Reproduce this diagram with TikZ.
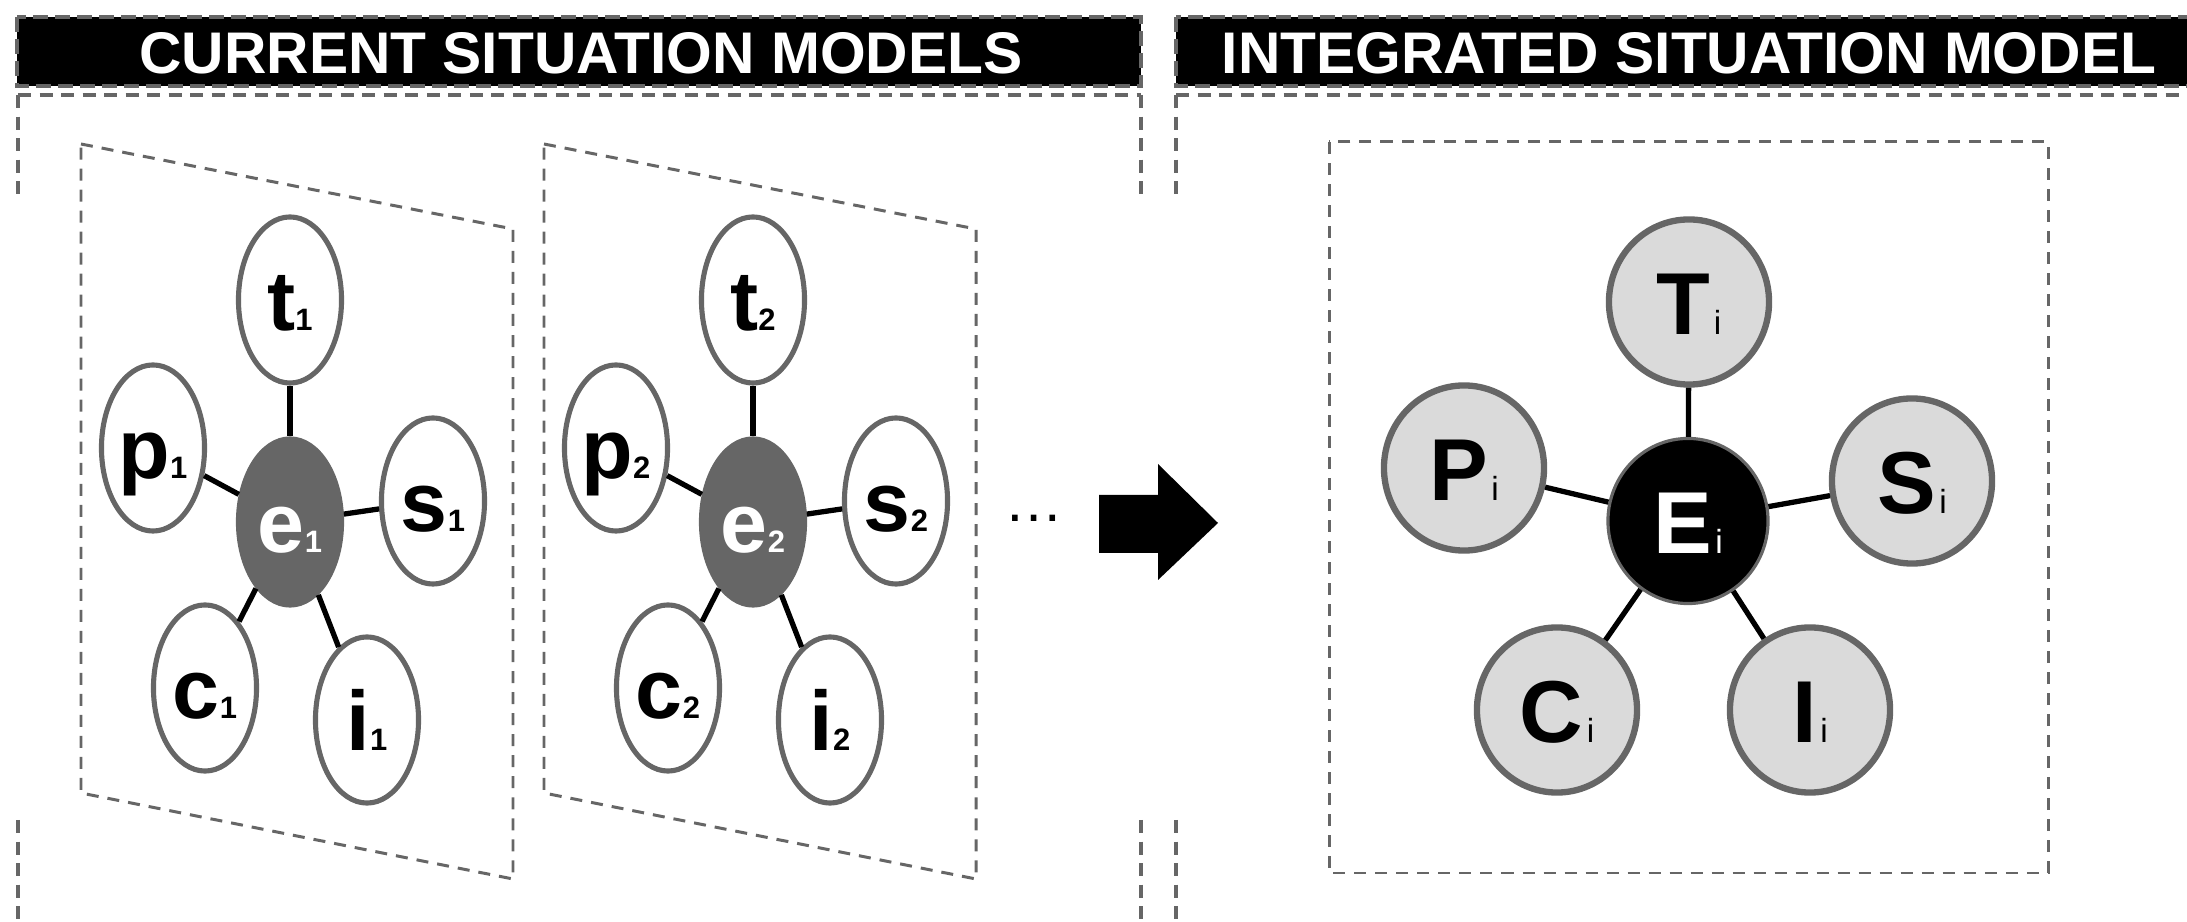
\documentclass[tikz,border=0pt]{standalone}
\usepackage{fontspec}
\setmainfont{Liberation Sans}
\usetikzlibrary{shapes.geometric}
\definecolor{rim}{HTML}{666666}
\definecolor{fog}{HTML}{DADADA}

% lower-case labels of a single situation model
\newcommand\smlab[2]{{\fontsize{24pt}{26pt}\selectfont\bfseries #1}{\fontsize{8.8pt}{9pt}\selectfont\bfseries #2}}
% capital labels of the integrated model
\newcommand\intlab[2]{{\fontsize{25pt}{27pt}\selectfont\bfseries #1}\kern1pt{\fontsize{9.5pt}{10pt}\selectfont #2}}

\begin{document}
\begin{tikzpicture}[x=0.01cm,y=-0.01cm,
  frame/.style={draw=rim, line width=0.85pt, dash pattern=on 0.12cm off 0.09cm},
  outerframe/.style={draw=rim, line width=1pt, dash pattern=on 0.13cm off 0.085cm},
  titlebar/.style={fill=black, draw=rim, line width=1pt, dash pattern=on 0.15cm off 0.07cm},
  titletext/.style={text=white, font=\fontsize{16.7pt}{18pt}\selectfont\bfseries, anchor=base, inner sep=0pt},
  sitnode/.style={ellipse, draw=rim, line width=1.45pt, fill=white, minimum width=1.03cm,
    minimum height=1.66cm, inner sep=0pt, text height=0.6cm, text depth=0pt},
  eventnode/.style={sitnode, fill=rim, text=white},
  intnode/.style={ellipse, draw=rim, line width=1.8pt, fill=fog, minimum width=1.60cm,
    minimum height=1.65cm, inner sep=0pt, text height=0.64cm, text depth=0pt},
  intevent/.style={intnode, fill=black, line width=0.9pt, text=white},
  link/.style={line width=1.5pt, draw=black},
]
\useasboundingbox (0,0) rectangle (2187,922);
\clip (0,0) rectangle (2187,922);

% title bars
\draw[titlebar] (17,17) rectangle (1141,86);
\draw[titlebar] (1176,17) rectangle (2210,86);
\node[titletext] (ttl1) at (581,74) {CURRENT SITUATION MODELS};
\node[titletext] (ttl2) at (1689,74) {INTEGRATED SITUATION MODEL};

% outer frames
\draw[outerframe] (18,95) -- (1141,95);
\draw[outerframe] (18,95) -- (18,202);
\draw[outerframe] (18,820) -- (18,922);
\draw[outerframe] (1141,95) -- (1141,202);
\draw[outerframe] (1141,820) -- (1141,922);
\draw[outerframe] (1176,95) -- (2187,95);
\draw[outerframe] (1176,95) -- (1176,202);
\draw[outerframe] (1176,820) -- (1176,922);

% tilted planes of the current models
\draw[frame] (81,144) -- (513,229) -- (513,879) -- (81,793) -- cycle;
\draw[frame] (544,144) -- (976,229) -- (976,879) -- (544,793) -- cycle;

% plane of the integrated model
\draw[frame] (1329,142) rectangle (2048,873);

% first situation model
\node[sitnode] (t1) at (290,300) {\smlab{t}{1}};
\node[sitnode] (p1) at (153,448) {\smlab{p}{1}};
\node[sitnode] (s1) at (433,501) {\smlab{s}{1}};
\node[eventnode] (e1) at (290,522) {\smlab{e}{1}};
\node[sitnode] (c1) at (205,688) {\smlab{c}{1}};
\node[sitnode] (i1) at (367,720) {\smlab{i}{1}};
\foreach \n in {t1,p1,s1,c1,i1} \draw[link] (e1) -- (\n);

% second situation model
\node[sitnode] (t2) at (753,300) {\smlab{t}{2}};
\node[sitnode] (p2) at (616,448) {\smlab{p}{2}};
\node[sitnode] (s2) at (896,501) {\smlab{s}{2}};
\node[eventnode] (e2) at (753,522) {\smlab{e}{2}};
\node[sitnode] (c2) at (668,688) {\smlab{c}{2}};
\node[sitnode] (i2) at (830,720) {\smlab{i}{2}};
\foreach \n in {t2,p2,s2,c2,i2} \draw[link] (e2) -- (\n);

% further models
\node[anchor=base, inner sep=0pt, font=\fontsize{16.8pt}{18pt}\selectfont] (more) at (1034.5,522) {…};

% block arrow
\fill[black] (1099,495) -- (1158,495) -- (1158,464) -- (1218,523) -- (1158,580)
  -- (1158,553) -- (1099,553) -- cycle;

% integrated situation model
\node[intnode] (T) at (1689,302) {\intlab{T}{i}};
\node[intnode] (P) at (1464,468) {\intlab{P}{i}};
\node[intnode] (S) at (1912,481) {\intlab{S}{i}};
\node[intevent] (E) at (1688,521) {\intlab{E}{i}};
\node[intnode] (C) at (1557,710) {\intlab{C}{i}};
\node[intnode] (I) at (1810,710) {\intlab{I}{i}};
\foreach \n in {T,P,S,C,I} \draw[link] (E) -- (\n);
\end{tikzpicture}
\end{document}
